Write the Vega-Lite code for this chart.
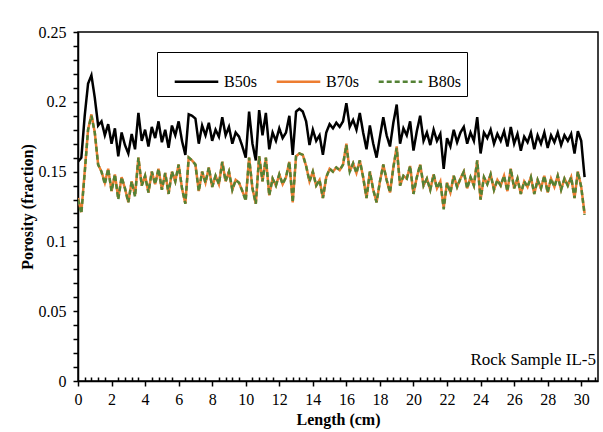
{
"$schema": "https://vega.github.io/schema/vega-lite/v6.json",
"width": 520,
"height": 349,
"autosize": {"type": "none"},
"padding": {"left": 78, "top": 32, "right": 5, "bottom": 51},
"background": "white",
"config": {
  "view": {"stroke": "black", "strokeWidth": 1.5},
  "font": "Liberation Serif",
  "text": {"font": "Liberation Serif"},
  "axis": {"labelFont": "Liberation Serif", "labelFontSize": 16, "labelColor": "black", "titleFont": "Liberation Serif", "titleFontSize": 16, "titleFontWeight": "bold", "titleColor": "black", "domainColor": "black", "domainWidth": 1.5, "tickColor": "black", "tickWidth": 1.5, "grid": false, "labelOverlap": false}
},
"layer": [
  {
    "data": {"values": [
{"x":0.0,"B50s":0.157,"B70s":0.131,"B80s":0.130},
{"x":0.2,"B50s":0.160,"B70s":0.121,"B80s":0.120},
{"x":0.4,"B50s":0.190,"B70s":0.150,"B80s":0.149},
{"x":0.6,"B50s":0.213,"B70s":0.180,"B80s":0.180},
{"x":0.8,"B50s":0.219,"B70s":0.191,"B80s":0.190},
{"x":1.0,"B50s":0.203,"B70s":0.178,"B80s":0.178},
{"x":1.2,"B50s":0.183,"B70s":0.155,"B80s":0.155},
{"x":1.4,"B50s":0.186,"B70s":0.150,"B80s":0.150},
{"x":1.6,"B50s":0.176,"B70s":0.142,"B80s":0.141},
{"x":1.8,"B50s":0.184,"B70s":0.152,"B80s":0.152},
{"x":2.0,"B50s":0.170,"B70s":0.136,"B80s":0.136},
{"x":2.2,"B50s":0.181,"B70s":0.148,"B80s":0.148},
{"x":2.4,"B50s":0.161,"B70s":0.131,"B80s":0.130},
{"x":2.6,"B50s":0.178,"B70s":0.146,"B80s":0.146},
{"x":2.8,"B50s":0.169,"B70s":0.138,"B80s":0.138},
{"x":3.0,"B50s":0.163,"B70s":0.128,"B80s":0.128},
{"x":3.2,"B50s":0.177,"B70s":0.143,"B80s":0.143},
{"x":3.4,"B50s":0.166,"B70s":0.133,"B80s":0.132},
{"x":3.6,"B50s":0.192,"B70s":0.160,"B80s":0.160},
{"x":3.8,"B50s":0.172,"B70s":0.140,"B80s":0.140},
{"x":4.0,"B50s":0.180,"B70s":0.147,"B80s":0.147},
{"x":4.2,"B50s":0.168,"B70s":0.135,"B80s":0.135},
{"x":4.4,"B50s":0.182,"B70s":0.150,"B80s":0.150},
{"x":4.6,"B50s":0.174,"B70s":0.141,"B80s":0.141},
{"x":4.8,"B50s":0.186,"B70s":0.152,"B80s":0.152},
{"x":5.0,"B50s":0.171,"B70s":0.137,"B80s":0.137},
{"x":5.2,"B50s":0.180,"B70s":0.149,"B80s":0.149},
{"x":5.4,"B50s":0.167,"B70s":0.134,"B80s":0.134},
{"x":5.6,"B50s":0.183,"B70s":0.150,"B80s":0.150},
{"x":5.8,"B50s":0.176,"B70s":0.143,"B80s":0.143},
{"x":6.0,"B50s":0.186,"B70s":0.155,"B80s":0.155},
{"x":6.2,"B50s":0.172,"B70s":0.138,"B80s":0.138},
{"x":6.4,"B50s":0.162,"B70s":0.127,"B80s":0.127},
{"x":6.6,"B50s":0.191,"B70s":0.160,"B80s":0.160},
{"x":6.8,"B50s":0.190,"B70s":0.158,"B80s":0.158},
{"x":7.0,"B50s":0.188,"B70s":0.155,"B80s":0.155},
{"x":7.2,"B50s":0.170,"B70s":0.136,"B80s":0.136},
{"x":7.4,"B50s":0.183,"B70s":0.150,"B80s":0.150},
{"x":7.6,"B50s":0.176,"B70s":0.142,"B80s":0.142},
{"x":7.8,"B50s":0.185,"B70s":0.153,"B80s":0.153},
{"x":8.0,"B50s":0.172,"B70s":0.139,"B80s":0.139},
{"x":8.2,"B50s":0.180,"B70s":0.147,"B80s":0.147},
{"x":8.4,"B50s":0.175,"B70s":0.141,"B80s":0.141},
{"x":8.6,"B50s":0.189,"B70s":0.157,"B80s":0.157},
{"x":8.8,"B50s":0.176,"B70s":0.143,"B80s":0.143},
{"x":9.0,"B50s":0.182,"B70s":0.150,"B80s":0.150},
{"x":9.2,"B50s":0.170,"B70s":0.137,"B80s":0.137},
{"x":9.4,"B50s":0.178,"B70s":0.144,"B80s":0.144},
{"x":9.6,"B50s":0.175,"B70s":0.142,"B80s":0.142},
{"x":9.8,"B50s":0.168,"B70s":0.136,"B80s":0.136},
{"x":10.0,"B50s":0.160,"B70s":0.130,"B80s":0.129},
{"x":10.2,"B50s":0.193,"B70s":0.160,"B80s":0.160},
{"x":10.4,"B50s":0.170,"B70s":0.138,"B80s":0.138},
{"x":10.6,"B50s":0.158,"B70s":0.127,"B80s":0.127},
{"x":10.8,"B50s":0.194,"B70s":0.161,"B80s":0.161},
{"x":11.0,"B50s":0.176,"B70s":0.143,"B80s":0.143},
{"x":11.2,"B50s":0.192,"B70s":0.160,"B80s":0.160},
{"x":11.4,"B50s":0.166,"B70s":0.133,"B80s":0.133},
{"x":11.6,"B50s":0.178,"B70s":0.145,"B80s":0.145},
{"x":11.8,"B50s":0.172,"B70s":0.140,"B80s":0.140},
{"x":12.0,"B50s":0.181,"B70s":0.148,"B80s":0.148},
{"x":12.2,"B50s":0.174,"B70s":0.141,"B80s":0.141},
{"x":12.4,"B50s":0.178,"B70s":0.146,"B80s":0.146},
{"x":12.6,"B50s":0.190,"B70s":0.157,"B80s":0.157},
{"x":12.8,"B50s":0.162,"B70s":0.128,"B80s":0.128},
{"x":13.0,"B50s":0.193,"B70s":0.161,"B80s":0.161},
{"x":13.2,"B50s":0.195,"B70s":0.163,"B80s":0.163},
{"x":13.4,"B50s":0.193,"B70s":0.162,"B80s":0.162},
{"x":13.6,"B50s":0.186,"B70s":0.154,"B80s":0.154},
{"x":13.8,"B50s":0.169,"B70s":0.143,"B80s":0.143},
{"x":14.0,"B50s":0.180,"B70s":0.150,"B80s":0.150},
{"x":14.2,"B50s":0.172,"B70s":0.140,"B80s":0.140},
{"x":14.4,"B50s":0.176,"B70s":0.144,"B80s":0.144},
{"x":14.6,"B50s":0.162,"B70s":0.131,"B80s":0.131},
{"x":14.8,"B50s":0.178,"B70s":0.146,"B80s":0.146},
{"x":15.0,"B50s":0.184,"B70s":0.152,"B80s":0.152},
{"x":15.2,"B50s":0.181,"B70s":0.150,"B80s":0.150},
{"x":15.4,"B50s":0.185,"B70s":0.153,"B80s":0.153},
{"x":15.6,"B50s":0.182,"B70s":0.151,"B80s":0.151},
{"x":15.8,"B50s":0.186,"B70s":0.155,"B80s":0.155},
{"x":16.0,"B50s":0.199,"B70s":0.170,"B80s":0.169},
{"x":16.2,"B50s":0.182,"B70s":0.150,"B80s":0.150},
{"x":16.4,"B50s":0.187,"B70s":0.156,"B80s":0.156},
{"x":16.6,"B50s":0.180,"B70s":0.149,"B80s":0.149},
{"x":16.8,"B50s":0.192,"B70s":0.158,"B80s":0.158},
{"x":17.0,"B50s":0.178,"B70s":0.146,"B80s":0.146},
{"x":17.2,"B50s":0.166,"B70s":0.131,"B80s":0.131},
{"x":17.4,"B50s":0.183,"B70s":0.150,"B80s":0.150},
{"x":17.6,"B50s":0.170,"B70s":0.137,"B80s":0.137},
{"x":17.8,"B50s":0.160,"B70s":0.128,"B80s":0.128},
{"x":18.0,"B50s":0.175,"B70s":0.143,"B80s":0.143},
{"x":18.2,"B50s":0.189,"B70s":0.155,"B80s":0.155},
{"x":18.4,"B50s":0.176,"B70s":0.144,"B80s":0.144},
{"x":18.6,"B50s":0.168,"B70s":0.135,"B80s":0.135},
{"x":18.8,"B50s":0.185,"B70s":0.153,"B80s":0.153},
{"x":19.0,"B50s":0.198,"B70s":0.168,"B80s":0.167},
{"x":19.2,"B50s":0.170,"B70s":0.140,"B80s":0.140},
{"x":19.4,"B50s":0.181,"B70s":0.147,"B80s":0.147},
{"x":19.6,"B50s":0.176,"B70s":0.145,"B80s":0.145},
{"x":19.8,"B50s":0.186,"B70s":0.154,"B80s":0.154},
{"x":20.0,"B50s":0.165,"B70s":0.134,"B80s":0.134},
{"x":20.2,"B50s":0.179,"B70s":0.146,"B80s":0.146},
{"x":20.4,"B50s":0.190,"B70s":0.155,"B80s":0.155},
{"x":20.6,"B50s":0.172,"B70s":0.140,"B80s":0.140},
{"x":20.8,"B50s":0.178,"B70s":0.145,"B80s":0.145},
{"x":21.0,"B50s":0.169,"B70s":0.137,"B80s":0.137},
{"x":21.2,"B50s":0.180,"B70s":0.148,"B80s":0.148},
{"x":21.4,"B50s":0.172,"B70s":0.138,"B80s":0.138},
{"x":21.6,"B50s":0.177,"B70s":0.143,"B80s":0.143},
{"x":21.8,"B50s":0.152,"B70s":0.124,"B80s":0.123},
{"x":22.0,"B50s":0.174,"B70s":0.142,"B80s":0.142},
{"x":22.2,"B50s":0.168,"B70s":0.135,"B80s":0.135},
{"x":22.4,"B50s":0.180,"B70s":0.147,"B80s":0.147},
{"x":22.6,"B50s":0.171,"B70s":0.139,"B80s":0.139},
{"x":22.8,"B50s":0.178,"B70s":0.145,"B80s":0.145},
{"x":23.0,"B50s":0.182,"B70s":0.150,"B80s":0.150},
{"x":23.2,"B50s":0.170,"B70s":0.138,"B80s":0.138},
{"x":23.4,"B50s":0.178,"B70s":0.146,"B80s":0.146},
{"x":23.6,"B50s":0.172,"B70s":0.140,"B80s":0.140},
{"x":23.8,"B50s":0.189,"B70s":0.158,"B80s":0.158},
{"x":24.0,"B50s":0.163,"B70s":0.130,"B80s":0.130},
{"x":24.2,"B50s":0.178,"B70s":0.146,"B80s":0.146},
{"x":24.4,"B50s":0.174,"B70s":0.141,"B80s":0.141},
{"x":24.6,"B50s":0.180,"B70s":0.148,"B80s":0.148},
{"x":24.8,"B50s":0.170,"B70s":0.137,"B80s":0.137},
{"x":25.0,"B50s":0.177,"B70s":0.144,"B80s":0.144},
{"x":25.2,"B50s":0.172,"B70s":0.140,"B80s":0.140},
{"x":25.4,"B50s":0.179,"B70s":0.147,"B80s":0.147},
{"x":25.6,"B50s":0.168,"B70s":0.136,"B80s":0.136},
{"x":25.8,"B50s":0.182,"B70s":0.152,"B80s":0.152},
{"x":26.0,"B50s":0.170,"B70s":0.138,"B80s":0.138},
{"x":26.2,"B50s":0.177,"B70s":0.145,"B80s":0.145},
{"x":26.4,"B50s":0.165,"B70s":0.134,"B80s":0.134},
{"x":26.6,"B50s":0.175,"B70s":0.143,"B80s":0.143},
{"x":26.8,"B50s":0.171,"B70s":0.139,"B80s":0.139},
{"x":27.0,"B50s":0.178,"B70s":0.146,"B80s":0.146},
{"x":27.2,"B50s":0.166,"B70s":0.134,"B80s":0.134},
{"x":27.4,"B50s":0.176,"B70s":0.144,"B80s":0.144},
{"x":27.6,"B50s":0.170,"B70s":0.138,"B80s":0.138},
{"x":27.8,"B50s":0.178,"B70s":0.147,"B80s":0.147},
{"x":28.0,"B50s":0.167,"B70s":0.135,"B80s":0.135},
{"x":28.2,"B50s":0.176,"B70s":0.145,"B80s":0.145},
{"x":28.4,"B50s":0.171,"B70s":0.139,"B80s":0.139},
{"x":28.6,"B50s":0.178,"B70s":0.147,"B80s":0.147},
{"x":28.8,"B50s":0.169,"B70s":0.137,"B80s":0.137},
{"x":29.0,"B50s":0.176,"B70s":0.145,"B80s":0.145},
{"x":29.2,"B50s":0.172,"B70s":0.140,"B80s":0.140},
{"x":29.4,"B50s":0.177,"B70s":0.146,"B80s":0.146},
{"x":29.6,"B50s":0.163,"B70s":0.131,"B80s":0.131},
{"x":29.8,"B50s":0.179,"B70s":0.150,"B80s":0.150},
{"x":30.0,"B50s":0.172,"B70s":0.139,"B80s":0.139},
{"x":30.2,"B50s":0.146,"B70s":0.120,"B80s":0.119}
    ]},
    "transform": [{"fold": ["B50s", "B70s", "B80s"], "as": ["series", "porosity"]}],
    "mark": {"type": "line", "strokeWidth": 2.5, "clip": true},
    "encoding": {
      "x": {"field": "x", "type": "quantitative", "scale": {"domain": [0, 31], "nice": false, "zero": false},
        "axis": {"orient": "bottom", "values": [0,0.4,0.8,1.2,1.6,2,2.4,2.8,3.2,3.6,4,4.4,4.8,5.2,5.6,6,6.4,6.8,7.2,7.6,8,8.4,8.8,9.2,9.6,10,10.4,10.8,11.2,11.6,12,12.4,12.8,13.2,13.6,14,14.4,14.8,15.2,15.6,16,16.4,16.8,17.2,17.6,18,18.4,18.8,19.2,19.6,20,20.4,20.8,21.2,21.6,22,22.4,22.8,23.2,23.6,24,24.4,24.8,25.2,25.6,26,26.4,26.8,27.2,27.6,28,28.4,28.8,29.2,29.6,30,30.4,30.8],
          "labelExpr": "abs(datum.value % 2) < 0.001 || abs(datum.value % 2 - 2) < 0.001 ? format(datum.value, 'd') : ''",
          "tickSize": {"condition": {"test": "abs(datum.value % 2) < 0.001 || abs(datum.value % 2 - 2) < 0.001", "value": 5}, "value": -4},
          "tickCount": 200, "labelOverlap": false,
          "labelPadding": 5, "title": "Length (cm)", "titlePadding": 4, "labelFlush": false}},
      "y": {"field": "porosity", "type": "quantitative", "scale": {"domain": [0, 0.25], "nice": false},
        "axis": {"values": [0,0.01,0.02,0.03,0.04,0.05,0.06,0.07,0.08,0.09,0.1,0.11,0.12,0.13,0.14,0.15,0.16,0.17,0.18,0.19,0.2,0.21,0.22,0.23,0.24,0.25],
          "labelExpr": "abs((datum.value*100) % 5) < 0.001 || abs((datum.value*100) % 5 - 5) < 0.001 ? format(datum.value, '~g') : ''",
          "tickCount": 200, "labelOverlap": false,
          "tickSize": 5, "labelPadding": 7, "title": "Porosity (fraction)", "titlePadding": 3, "labelFlush": false}},
      "color": {"field": "series", "type": "nominal",
        "scale": {"domain": ["B50s", "B70s", "B80s"], "range": ["#000000", "#ED7D31", "#548235"]},
        "legend": {"orient": "none", "legendX": 79, "legendY": 20, "direction": "horizontal", "title": null, "fillColor": "white", "strokeColor": "black", "padding": 6, "symbolType": "stroke", "symbolSize": 1900, "symbolStrokeWidth": 2.5, "symbolOffset": 10, "labelFont": "Liberation Serif", "labelFontSize": 16, "labelColor": "black", "columnPadding": 8, "labelOffset": 4}},
      "strokeDash": {"field": "series", "type": "nominal",
        "scale": {"domain": ["B50s", "B70s", "B80s"], "range": [[1, 0], [1, 0], [5, 3]]},
        "legend": {"orient": "none", "legendX": 79, "legendY": 20, "direction": "horizontal", "title": null, "fillColor": "white", "strokeColor": "black", "padding": 6, "symbolType": "stroke", "symbolSize": 1900, "symbolStrokeWidth": 2.5, "symbolOffset": 10, "labelFont": "Liberation Serif", "labelFontSize": 16, "labelColor": "black", "columnPadding": 8, "labelOffset": 4}}
    }
  },
  {
    "data": {"values": [{"label": "Rock Sample IL-5"}]},
    "mark": {"type": "text", "align": "right", "baseline": "alphabetic", "font": "Liberation Serif", "fontSize": 17, "color": "black", "dx": -2},
    "encoding": {
      "x": {"datum": 31, "type": "quantitative"},
      "y": {"datum": 0.0115, "type": "quantitative"},
      "text": {"field": "label", "type": "nominal"}
    }
  }
]
}
